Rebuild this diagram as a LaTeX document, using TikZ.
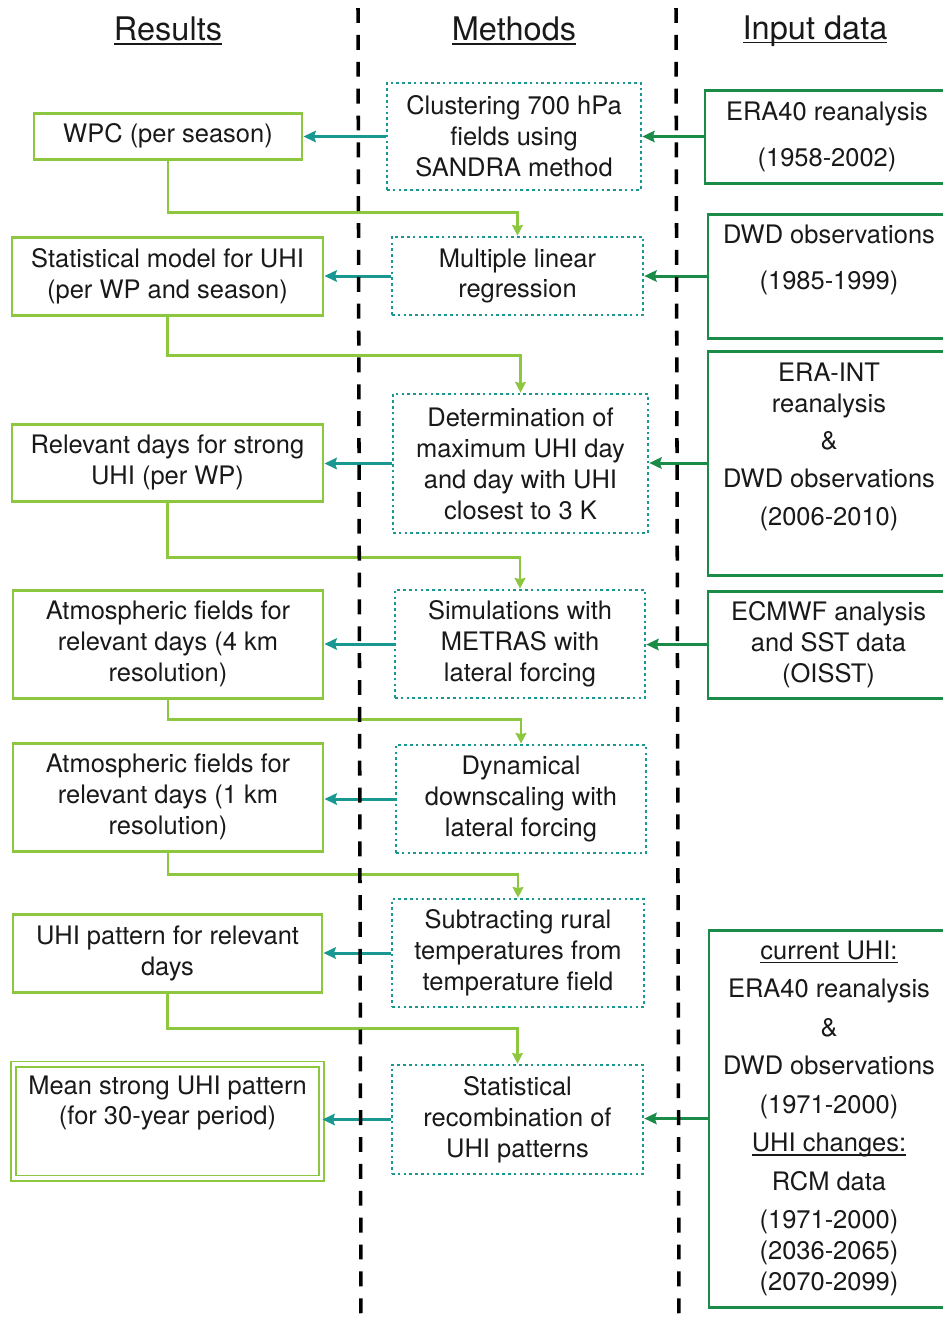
\documentclass[tikz,border=0pt]{standalone}
\usepackage{fontspec}
\setmainfont{TeX Gyre Heros}
\usetikzlibrary{arrows.meta}

\definecolor{resgreen}{RGB}{141,198,63}
\definecolor{methteal}{RGB}{24,152,144}
\definecolor{inpgreen}{RGB}{27,140,72}
\newcommand{\px}{0.02cm}
\newsavebox{\ulbox}
\newcommand{\ulined}[1]{\sbox{\ulbox}{#1}\rlap{\rule[-2.2pt]{\wd\ulbox}{0.9pt}}\usebox{\ulbox}}

\begin{document}
\begin{tikzpicture}[
    x=\px, y=-\px,
    every node/.style={font=\fontsize{14.5}{17.6}\selectfont, text=black!90, align=center},
    head/.style={font=\fontsize{18.5}{22}\selectfont},
    res/.style={draw=resgreen, line width=1.7pt, inner sep=0pt},
    resfin/.style={draw=resgreen, line width=1.1pt, double=white, double distance=1.8pt, inner sep=0pt},
    meth/.style={draw=methteal, line width=1.5pt, dash pattern=on 1.5pt off 1.8pt, inner sep=0pt},
    inp/.style={draw=inpgreen, line width=1.7pt, inner sep=0pt},
    tarr/.style={draw=methteal, line width=1.7pt, -{Stealth[length=7pt,width=6.5pt,inset=1pt]}},
    garr/.style={draw=inpgreen, line width=1.7pt, -{Stealth[length=7pt,width=6.5pt,inset=1pt]}},
    flow/.style={draw=resgreen, line width=1.7pt, -{Stealth[length=6pt,width=6pt,inset=0.5pt]}},
    sep/.style={line width=2pt, dash pattern=on 8.5pt off 6.8pt}
]
\clip (0,0) rectangle (943,1323);

% Column headings
\node[head] (hres) at (168,31) {\ulined{Results}};
\node[head] (hmeth) at (514,31) {\ulined{Methods}};
\node[head] (hinp) at (815,31) {\ulined{Input data}};

% Results
\node[res, minimum width=268*\px, minimum height=46*\px] (wpc) at (168,136) {WPC (per season)};
\node[res, minimum width=311*\px, minimum height=78*\px] (stat) at (167.5,276) {Statistical model for UHI\\(per WP and season)};
\node[res, minimum width=311*\px, minimum height=77*\px] (days) at (167.5,462.5) {Relevant days for strong\\UHI (per WP)};
\node[res, minimum width=310*\px, minimum height=108*\px] (atm4) at (168,644) {Atmospheric fields for\\relevant days (4 km\\resolution)};
\node[res, minimum width=310*\px, minimum height=108*\px] (atm1) at (168,797) {Atmospheric fields for\\relevant days (1 km\\resolution)};
\node[res, minimum width=309*\px, minimum height=78*\px] (uhipat) at (167.5,953) {UHI pattern for relevant\\days};
\node[resfin, minimum width=308*\px, minimum height=114*\px] (mean) at (167.5,1121) {};
\node (mean-txt) at (167.5,1103) {Mean strong UHI pattern\\(for 30-year period)};

% Methods
\node[meth, minimum width=254*\px, minimum height=107*\px] (clus) at (514,136.5) {Clustering 700 hPa\\fields using\\SANDRA method};
\node[meth, minimum width=251*\px, minimum height=78*\px] (mlr) at (517.5,276) {Multiple linear\\regression};
\node[meth, minimum width=255*\px, minimum height=139*\px] (det) at (520.5,463.5) {Determination of\\maximum UHI day\\and day with UHI\\closest to 3 K};
\node[meth, minimum width=250*\px, minimum height=108*\px] (sim) at (520,644) {Simulations with\\METRAS with\\lateral forcing};
\node[meth, minimum width=250*\px, minimum height=108*\px] (dyn) at (521,799) {Dynamical\\downscaling with\\lateral forcing};
\node[meth, minimum width=252*\px, minimum height=108*\px] (sub) at (518,953) {Subtracting rural\\temperatures from\\temperature field};
\node[meth, minimum width=251*\px, minimum height=109*\px] (recomb) at (517.5,1119.5) {Statistical\\recombination of\\UHI patterns};

% Input data
\node[inp, minimum width=244*\px, minimum height=93*\px] (era40) at (827,136.5) {ERA40 reanalysis\\[8.5pt](1958-2002)};
\node[inp, minimum width=241*\px, minimum height=124*\px] (dwd) at (828.5,276) {};
\node (dwd-txt) at (829,260) {DWD observations\\[8.5pt](1985-1999)};
\node[inp, minimum width=241*\px, minimum height=224*\px] (eraint) at (828.5,463) {};
\node (eraint-txt) at (829,447) {ERA-INT\\reanalysis\\[3.4pt]\&\\[4.5pt]DWD observations\\[4pt](2006-2010)};
\node[inp, minimum width=241*\px, minimum height=107*\px] (ecmwf) at (828.5,644.5) {ECMWF analysis\\and SST data\\(OISST)};
\node[inp, minimum width=240*\px, minimum height=377*\px] (rcm) at (829,1118.5) {\ulined{current UHI:}\\[4.3pt]ERA40 reanalysis\\[4.3pt]\&\\[4.3pt]DWD observations\\[4.3pt](1971-2000)\\[4.3pt]\ulined{UHI changes:}\\[4.3pt]RCM data\\[4.3pt](1971-2000)\\(2036-2065)\\(2070-2099)};

% Methods -> results
\foreach \m/\r in {clus/wpc, mlr/stat, det/days, sim/atm4, dyn/atm1, sub/uhipat, recomb/mean}
    \draw[tarr] (\m.west) -- (\m.west -| \r.east);

% Input -> methods
\foreach \i/\m in {era40/clus, dwd/mlr, eraint/det, ecmwf/sim, rcm/recomb}
    \draw[garr] (\i.west) -- (\i.west -| \m.east);

% Results feed the next method
\draw[flow] (wpc.south) -- ++(0,52) -| (mlr.north);
\draw[flow] (stat.south) -- ++(0,39) -| (det.north);
\draw[flow] (days.south) -- ++(0,55) -| (sim.north);
\draw[flow] (atm4.south) -- ++(0,20) -| (dyn.north);
\draw[flow] (atm1.south) -- ++(0,22) -| (sub.north);
\draw[flow] (uhipat.south) -- ++(0,35) -| (recomb.north);

% Column separators
\draw[sep] (358,8) -- (361,1323);
\draw[sep] (676,8) -- (679,1323);
\end{tikzpicture}
\end{document}
